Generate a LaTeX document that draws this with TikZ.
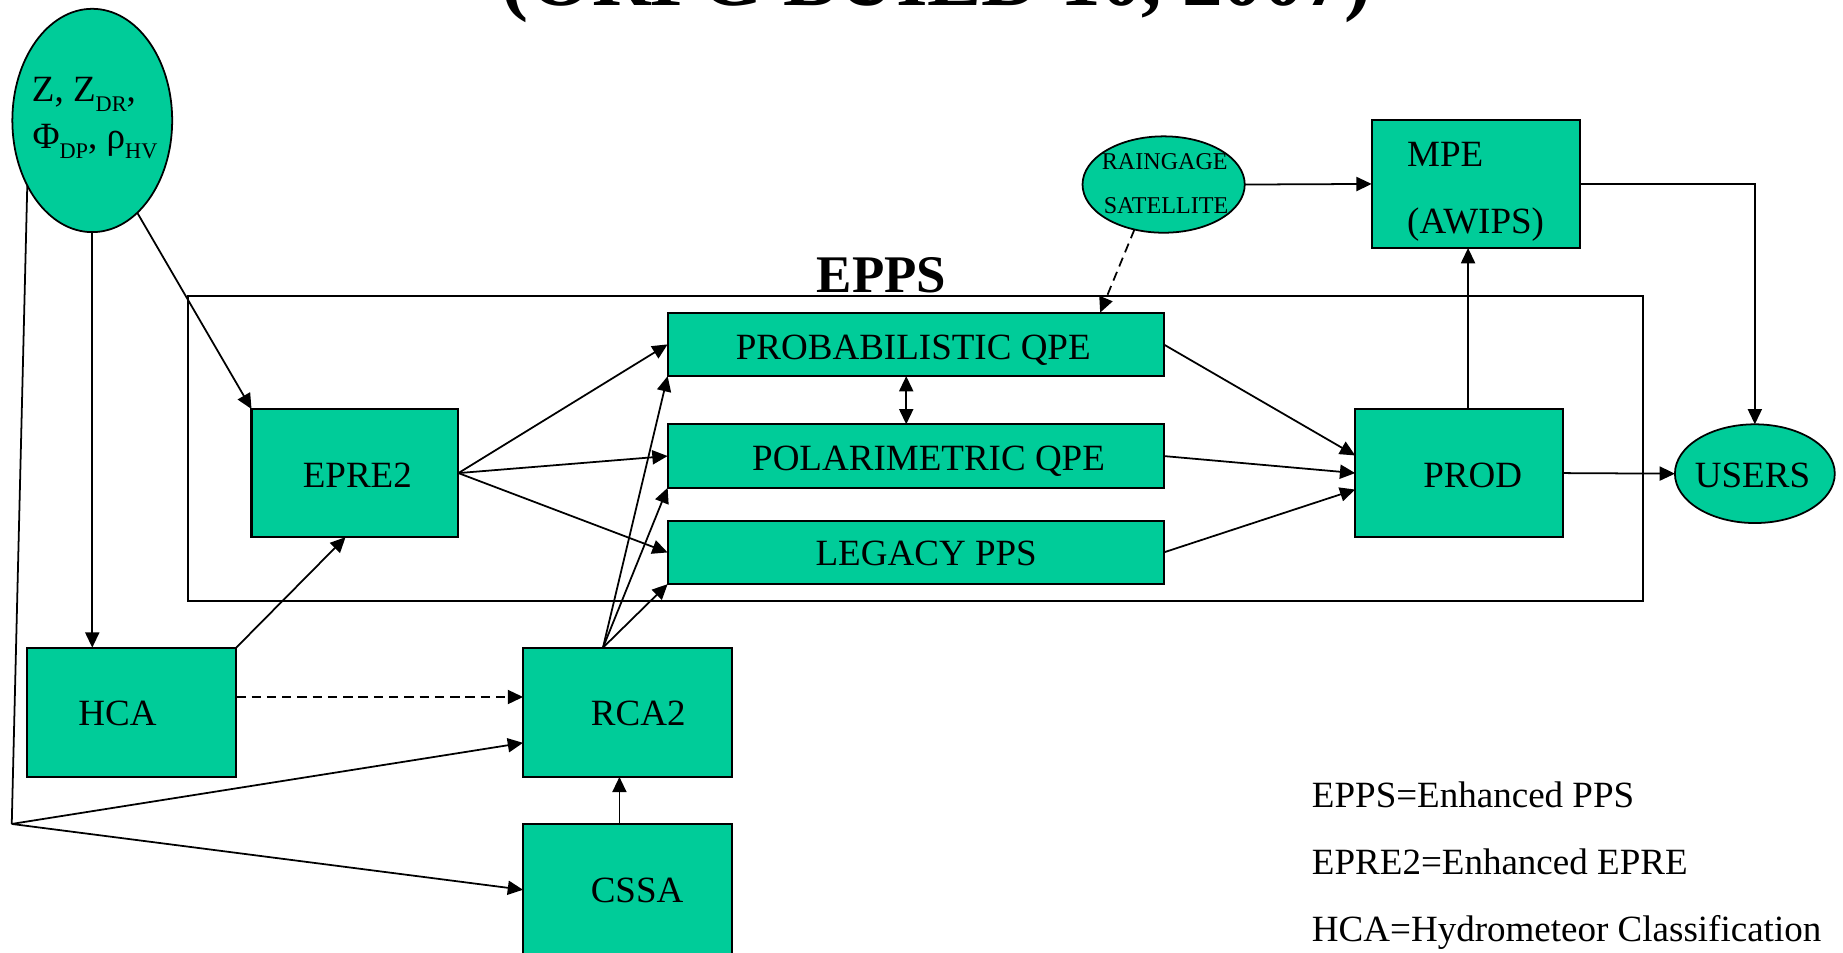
\documentclass[tikz,border=0pt]{standalone}
\usepackage{fontspec}
\setmainfont{Liberation Serif}
\usetikzlibrary{arrows.meta,shapes.geometric,calc}
\definecolor{boxgreen}{RGB}{0,204,153}
\newcommand{\sbs}[1]{\raisebox{-9pt}{\fontsize{19}{19}\selectfont #1}}
\begin{document}
\begin{tikzpicture}[x=1pt,y=-1pt,
  box/.style={draw=black,line width=1.8pt,fill=boxgreen,inner sep=0pt,outer sep=0pt},
  oval/.style={ellipse,draw=black,line width=1.5pt,fill=boxgreen,inner sep=0pt,outer sep=0pt},
  lbl/.style={anchor=base,font=\fontsize{31.5}{36}\selectfont,inner sep=0pt},
  smalllbl/.style={anchor=base,font=\fontsize{20.5}{20.5}\selectfont,inner sep=0pt},
  conn/.style={line width=1.5pt,-{Triangle[length=13pt,width=12pt]}},
  plain/.style={line width=1.5pt},
  dashedconn/.style={conn,dash pattern=on 8pt off 5pt},
]
\useasboundingbox (0,0) rectangle (1568,810);
\clip (0,0) rectangle (1568,810);

\node[anchor=base,font=\bfseries\fontsize{69}{69}\selectfont,inner sep=0pt] (title) at (797,5) {(ORPG BUILD 10, 2007)};

\node[draw=black,line width=1.8pt,minimum width=1238pt,minimum height=259pt,inner sep=0pt] (epps) at (779,381.5) {};
\node[anchor=base,font=\bfseries\fontsize{45}{45}\selectfont,inner sep=0pt] (eppslbl) at (750,249) {EPPS};

\node[box,minimum width=176pt,minimum height=109pt] (epre) at (302,402.5) {};
\node[box,minimum width=422pt,minimum height=54pt] (prob) at (779,293) {};
\node[box,minimum width=422pt,minimum height=54pt] (pol) at (779,388) {};
\node[box,minimum width=422pt,minimum height=54pt] (leg) at (779,470) {};
\node[box,minimum width=177pt,minimum height=109pt] (prod) at (1241.5,402.5) {};
\node[box,minimum width=177pt,minimum height=109pt] (mpe) at (1255.5,156.5) {};
\node[box,minimum width=178pt,minimum height=110pt] (hca) at (112,606) {};
\node[box,minimum width=178pt,minimum height=110pt] (rca) at (534,606) {};
\node[box,minimum width=178pt,minimum height=112pt] (cssa) at (534,757) {};
\node[oval,minimum width=136pt,minimum height=190pt] (zin) at (78.5,102.5) {};
\node[oval,minimum width=138pt,minimum height=82pt] (rain) at (990,157) {};
\node[oval,minimum width=136pt,minimum height=84pt] (users) at (1493,403) {};

\node[lbl] (epret) at (304,415) {EPRE2};
\node[lbl] (probt) at (777,305.5) {PROBABILISTIC QPE};
\node[lbl] (polt) at (790,400.5) {POLARIMETRIC QPE};
\node[lbl] (legt) at (788,481.5) {LEGACY PPS};
\node[lbl] (prodt) at (1253,414.5) {PROD};
\node[lbl] (hcat) at (100,617.5) {HCA};
\node[lbl] (rcat) at (543,617.5) {RCA2};
\node[lbl] (cssat) at (542,767.5) {CSSA};
\node[lbl] (userst) at (1491,414.5) {USERS};
\node[lbl,anchor=base west] (mpet1) at (1197,142) {MPE};
\node[lbl,anchor=base west] (mpet2) at (1197,198.5) {(AWIPS)};
\node[smalllbl] (raint1) at (991,144.6) {RAINGAGE};
\node[smalllbl] (raint2) at (992,181.5) {SATELLITE};
\node[lbl,anchor=base west] (zt1) at (27,86) {Z, Z\sbs{DR},};
\node[lbl,anchor=base west] (zt2) at (27.5,126) {Φ\sbs{DP}, ρ\sbs{HV}};

\node[lbl,anchor=base west] (leg1) at (1116,687) {EPPS=Enhanced PPS};
\node[lbl,anchor=base west] (leg2) at (1116,744) {EPRE2=Enhanced EPRE};
\node[lbl,anchor=base west] (leg3) at (1116,801) {HCA=Hydrometeor Classification};

\coordinate (v) at (10,701);
\coordinate (rtop) at ($(rca.north)+(-21,0)$);
\coordinate (pm) at ($(prod.north)+(7.5,0)$);
\coordinate (cm) at ($(cssa.north)+(-7,0)$);
\coordinate (dbl) at ($(prob.south)+(-8,0)$);

\draw[conn] (zin.south) -- (zin.south |- hca.north);
\draw[conn] (zin.-64) -- (epre.north west);
\draw[plain] (zin.-135) -- (v);
\draw[conn] (v) -- ($(rca.west)+(0,26)$);
\draw[conn] (v) -- (cssa.west);
\draw[conn] (hca.north east) -- ($(epre.south)+(-8,0)$);
\draw[dashedconn] ($(hca.east)+(0,-13)$) -- ($(rca.west)+(0,-13)$);
\draw[conn] (rtop) -- (prob.south west);
\draw[conn] (rtop) -- (pol.south west);
\draw[conn] (rtop) -- (leg.south west);
\draw[conn] (cm) -- (cm |- rca.south);
\draw[conn] (epre.east) -- (prob.west);
\draw[conn] (epre.east) -- (pol.west);
\draw[conn] (epre.east) -- (leg.west);
\draw[conn] (prob.east) -- ($(prod.west)+(0,-15)$);
\draw[conn] (pol.east) -- (prod.west);
\draw[conn] (leg.east) -- ($(prod.west)+(0,14)$);
\draw[line width=1.5pt,{Triangle[length=13pt,width=12pt]}-{Triangle[length=13pt,width=12pt]}] (dbl) -- (dbl |- pol.north);
\draw[dashedconn] (rain.-123) -- ($(prob.north)+(157,0)$);
\draw[conn] (rain.east) -- (mpe.west);
\draw[conn] (mpe.east) -| (users.north);
\draw[conn] (pm) -- (pm |- mpe.south);
\draw[conn] (prod.east) -- (users.west);
\end{tikzpicture}
\end{document}
